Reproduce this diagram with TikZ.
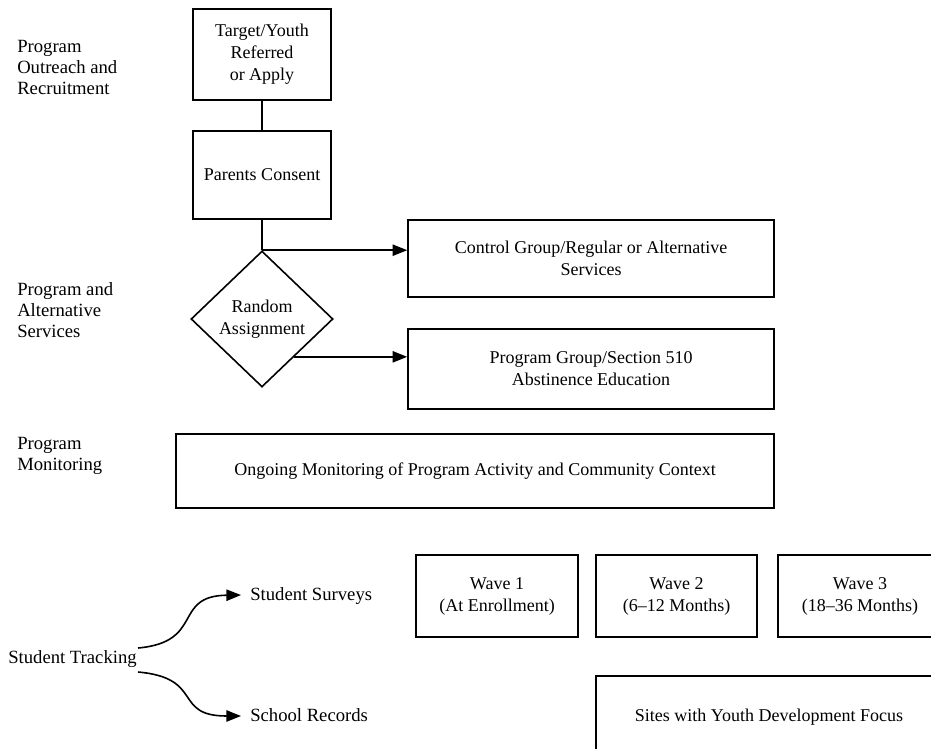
\documentclass[tikz,border=0pt]{standalone}
\usepackage{fontspec}
\setmainfont{Liberation Serif}
\usetikzlibrary{shapes.geometric,arrows.meta,calc}
\newlength\pxu
\setlength\pxu{0.75pt}
\begin{document}
\begin{tikzpicture}[x=0.75pt,y=-0.75pt,
  box/.style={draw,line width=1.2pt,align=center,inner sep=0pt,
    font=\fontsize{13.5}{16.5}\selectfont},
  lbl/.style={align=left,inner sep=0pt,
    font=\fontsize{14}{15.8}\selectfont},
  arr/.style={-{Triangle[length=11pt,width=8.5pt]},line width=1.2pt},
  link/.style={line width=1.2pt}]
\useasboundingbox (0,0) rectangle (931,749);
\clip (0,0) rectangle (931,749);

% left labels
\node[lbl,anchor=north west] (l1) at (17,40) {Program\\Outreach and\\Recruitment};
\node[lbl,anchor=north west] (l2) at (17,282) {Program and\\Alternative\\Services};
\node[lbl,anchor=north west] (l3) at (17,437) {Program\\Monitoring};

% main flow
\node[box,minimum width=138\pxu,minimum height=91\pxu] (target) at (262,54.5)
  {Target/Youth\\Referred\\or Apply};
\node[box,minimum width=138\pxu,minimum height=88\pxu] (consent) at (262,175)
  {Parents Consent};
\node[box,shape=diamond,minimum width=142\pxu,minimum height=136\pxu] (rand) at (262,319)
  {Random\\Assignment};
\node[box,minimum width=366\pxu,minimum height=77\pxu] (ctrl) at (591,258.5)
  {Control Group/Regular or Alternative\\Services};
\node[box,minimum width=366\pxu,minimum height=80\pxu] (prog) at (591,369)
  {Program Group/Section 510\\Abstinence Education};
\node[box,minimum width=598\pxu,minimum height=74\pxu] (mon) at (475,471)
  {Ongoing Monitoring of Program Activity and Community Context};

\draw[link] (target) -- (consent);
\draw[link] (consent) -- (rand.north);
\draw[arr] (rand.north) -- (rand.north -| ctrl.west);
\coordinate (rexit) at ($(rand.east)!0.55!(rand.south)$);
\draw[arr] (rexit) -- (rexit -| prog.west);

% tracking
\node[lbl,anchor=base west] (track) at (8,663) {Student Tracking};
\node[lbl,anchor=base west] (surv) at (250,600) {Student Surveys};
\node[lbl,anchor=base west] (rec) at (250,721) {School Records};
\coordinate (ts) at (138,648);
\coordinate (tr) at (138,672);
\coordinate (se) at (241,595);
\coordinate (re) at (241,716);
\draw[arr] (ts) .. controls (205,642) and (172,596) .. (se);
\draw[arr] (tr) .. controls (205,678) and (172,716) .. (re);

\node[box,minimum width=162\pxu,minimum height=82\pxu] (w1) at (497,596)
  {Wave 1\\(At Enrollment)};
\node[box,minimum width=161\pxu,minimum height=82\pxu] (w2) at (676.5,596)
  {Wave 2\\(6--12 Months)};
\node[box,minimum width=164\pxu,minimum height=82\pxu] (w3) at (860,596)
  {Wave 3\\(18--36 Months)};
\node[box,minimum width=346\pxu,minimum height=82\pxu] (sites) at (769,717)
  {Sites with Youth Development Focus};
\end{tikzpicture}
\end{document}
